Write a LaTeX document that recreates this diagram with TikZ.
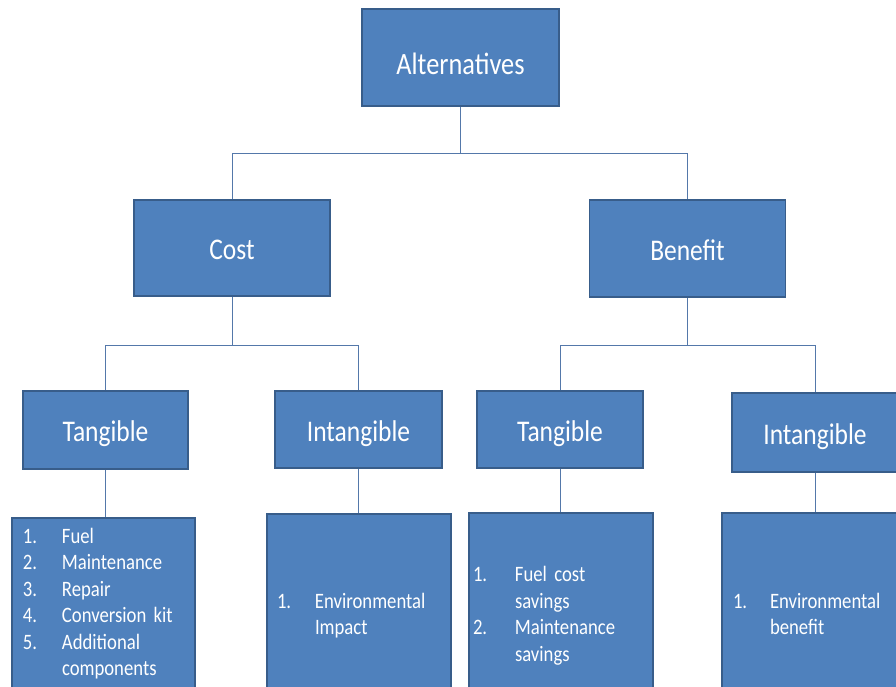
\documentclass[tikz,border=0pt]{standalone}
\usepackage{fontspec}
\setmainfont{Carlito}[FakeStretch=0.85]
\definecolor{boxfill}{RGB}{79,129,189}
\definecolor{boxline}{RGB}{56,93,138}
\definecolor{connline}{RGB}{84,120,170}
\newcommand\listfnt{\fontsize{22}{26.5}\selectfont\spaceskip=4.2pt\relax}
\newcommand\numlist[2]{\begin{tabular}{@{}p{#1}@{}l@{}}#2\end{tabular}}
\tikzset{
  box/.style={rectangle, draw=boxline, line width=1.3pt, fill=boxfill, text=white, inner sep=0pt},
  headbox/.style={box, font=\fontsize{30}{36}\selectfont, text height=30pt, text depth=6.6pt},
  listbox/.style={box, font=\listfnt, align=left},
  conn/.style={draw=connline, line width=1pt}
}
\begin{document}
\begin{tikzpicture}[x=1pt,y=-1pt]
\clip (0,0) rectangle (896,687);
\fill[white] (0,0) rectangle (896,687);

% header boxes
\node[headbox, minimum width=197pt, minimum height=97pt, font=\fontsize{31}{37}\selectfont, text height=34pt, text depth=0pt] (alt) at (460.5,57.5) {Alternatives};
\node[headbox, minimum width=196pt, minimum height=96pt] (cost) at (232,248) {Cost};
\node[headbox, minimum width=196pt, minimum height=97pt] (ben) at (687.5,248.5) {Benefit};

\node[headbox, minimum width=165pt, minimum height=78pt] (tangL) at (105.5,430) {Tangible};
\node[headbox, minimum width=167pt, minimum height=77pt] (intL) at (358.5,429.5) {Intangible};
\node[headbox, minimum width=166pt, minimum height=77pt] (tangR) at (560,429.5) {Tangible};
\node[headbox, minimum width=166pt, minimum height=79pt] (intR) at (815,432.5) {Intangible};

% list boxes
\node[listbox, minimum height=172pt, inner xsep=11pt, text width=161pt] (l1) at (103.5,604)
  {\numlist{39pt}{1. & Fuel\\ 2. & Maintenance\\ 3. & Repair\\ 4. & Conversion kit\\ 5. & Additional\\ & components}};
\node[listbox, minimum height=204pt, inner xsep=10pt, text width=164pt] (l2) at (359,616)
  {\numlist{38pt}{1. & Environmental\\ & Impact}};
\node[listbox, minimum height=206pt, inner xsep=4pt, text width=176pt] (r1) at (561,616)
  {\numlist{42pt}{1. & Fuel cost\\ & savings\\ 2. & Maintenance\\ & savings}};
\node[listbox, minimum height=206pt, inner xsep=11pt, text width=162pt] (r2) at (814,616)
  {\numlist{37pt}{1. & Environmental\\ & benefit}};

% junctions
\coordinate (j1) at (460.5,154);
\coordinate (j2) at (232,345);
\coordinate (j3) at (687.5,345);

% connectors
\draw[conn] (alt.south) -- (j1);
\draw[conn] (j1) -| (cost.north);
\draw[conn] (j1) -| (ben.north);
\draw[conn] (cost.south) -- (j2);
\draw[conn] (j2) -| (tangL.north);
\draw[conn] (j2) -| (intL.north);
\draw[conn] (ben.south) -- (j3);
\draw[conn] (j3) -| (tangR.north);
\draw[conn] (j3) -| (intR.north);
\draw[conn] (tangL.south) -- (tangL.south |- l1.north);
\draw[conn] (intL.south) -- (intL.south |- l2.north);
\draw[conn] (tangR.south) -- (tangR.south |- r1.north);
\draw[conn] (intR.south) -- (intR.south |- r2.north);
\end{tikzpicture}
\end{document}
